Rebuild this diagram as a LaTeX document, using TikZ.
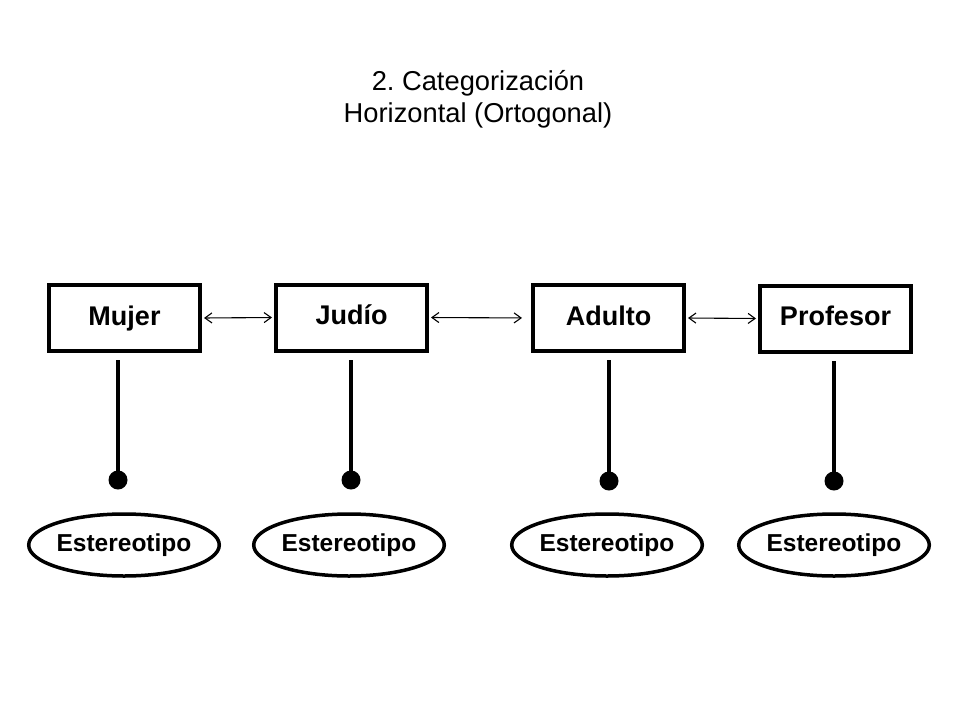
\documentclass[tikz,border=0pt]{standalone}
\usepackage{fontspec}
\setmainfont{Liberation Sans}
\usetikzlibrary{shapes.geometric,arrows.meta}
\frenchspacing
\begin{document}
\begin{tikzpicture}[x=1pt,y=-1pt,
  catbox/.style={draw, line width=4pt, minimum width=151pt, minimum height=66pt, inner sep=0pt, text height=19pt, text depth=5pt, font=\fontsize{27}{30}\selectfont\bfseries},
  stereo/.style={ellipse, draw, line width=3.5pt, line join=round, minimum width=184pt, minimum height=62pt, inner sep=0pt, font=\fontsize{24.5}{28}\selectfont\bfseries},
  knob/.style={circle, fill, minimum size=19pt, inner sep=0pt},
  stem/.style={line width=4.5pt, shorten >=7pt},
  link/.style={{Straight Barb[length=7pt,width=10pt]}-{Straight Barb[length=7pt,width=10pt]}, line width=1.1pt}]
\useasboundingbox (0,0) rectangle (960,720);
\node[anchor=base, font=\fontsize{27.3}{30}\selectfont] (titleA) at (478,90) {2. Categorización};
\node[anchor=base, font=\fontsize{27.3}{30}\selectfont] (titleB) at (478,122) {Horizontal (Ortogonal)};
\node[catbox] (mujer) at (124.5,318) {Mujer};
\node[catbox] (judio) at (351.5,317.5) {Judío};
\node[catbox] (adulto) at (608.5,318) {Adulto};
\node[catbox] (profesor) at (835.5,318.5) {Profesor};
\draw[link, shorten <=2pt, shorten >=2pt] (mujer.east) -- (judio.west);
\draw[link, shorten <=2pt, shorten >=9pt] (judio.east) -- (adulto.west);
\draw[link, shorten <=2pt, shorten >=2pt] (adulto.east) -- (profesor.west);
\node[knob] (mujerD) at (118,480) {};
\node[knob] (judioD) at (351,480) {};
\node[knob] (adultoD) at (609,481) {};
\node[knob] (profesorD) at (834,481) {};
\draw[stem] (mujerD.center) -- (mujerD |- mujer.south);
\draw[stem] (judioD.center) -- (judioD |- judio.south);
\draw[stem] (adultoD.center) -- (adultoD |- adulto.south);
\draw[stem] (profesorD.center) -- (profesorD |- profesor.south);
\node[stereo] (mujerE) at (124,545) {Estereotipo};
\node[stereo] (judioE) at (349,545) {Estereotipo};
\node[stereo] (adultoE) at (607,545) {Estereotipo};
\node[stereo] (profesorE) at (834,545) {Estereotipo};
\end{tikzpicture}
\end{document}
